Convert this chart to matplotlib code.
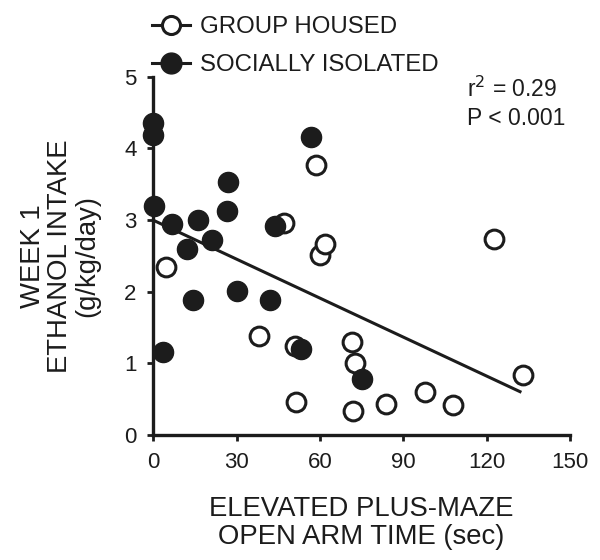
import numpy as np
import matplotlib
matplotlib.use("Agg")
import matplotlib.pyplot as plt
from matplotlib.lines import Line2D

plt.rcParams["font.family"] = ["Liberation Sans", "DejaVu Sans"]

# Group housed (open circles)
gh_time = [4.6, 38.0, 47.2, 51.0, 51.4, 58.6, 60.0, 61.8, 71.4, 72.6, 72.0,
           83.8, 97.8, 107.8, 122.6, 133.2]
gh_intake = [2.34, 1.38, 2.96, 1.25, 0.46, 3.77, 2.51, 2.66, 1.30, 1.00, 0.34,
             0.44, 0.60, 0.42, 2.74, 0.84]

# Socially isolated (filled circles)
si_time = [0.0, 0.0, 0.3, 3.4, 6.9, 12.0, 14.2, 16.2, 21.2, 26.6, 27.0, 30.2,
           42.0, 43.8, 53.2, 56.7, 75.2]
si_intake = [4.35, 4.18, 3.19, 1.16, 2.94, 2.59, 1.88, 3.00, 2.72, 3.12, 3.53,
             2.01, 1.88, 2.92, 1.20, 4.16, 0.78]

fit_range = [0, 132]
x_ticks = [0, 30, 60, 90, 120, 150]
y_ticks = [0, 1, 2, 3, 4, 5]

ink = "#1c1c1c"

fig = plt.figure(figsize=(6.0, 5.6), dpi=100)
ax = fig.add_axes([0.2555, 0.223, 0.6945, 0.64])

# regression over all animals
all_x = np.array(gh_time + si_time)
all_y = np.array(gh_intake + si_intake)
slope, icpt = np.polyfit(all_x, all_y, 1)
fx = np.array(fit_range)
ax.plot(fx, icpt + slope * fx, color=ink, lw=2.2, zorder=2)

ax.plot(gh_time, gh_intake, "o", ms=13.5, mfc="white", mec=ink, mew=2.2,
        clip_on=False, zorder=3)
ax.plot(si_time, si_intake, "o", ms=14.5, mfc=ink, mec=ink, mew=1,
        clip_on=False, zorder=4)

ax.set_xlim(0, 150)
ax.set_ylim(0, 5)
ax.set_xticks(x_ticks)
ax.set_yticks(y_ticks)
for s in ["top", "right"]:
    ax.spines[s].set_visible(False)
for s in ["left", "bottom"]:
    ax.spines[s].set_linewidth(2.4)
    ax.spines[s].set_color(ink)
ax.tick_params(length=4, width=2, color=ink, labelsize=16, labelcolor=ink,
               pad=8)

ax.set_xlabel("ELEVATED PLUS-MAZE\nOPEN ARM TIME (sec)", fontsize=19.8,
              color=ink, labelpad=17, linespacing=1.07)
ax.set_ylabel("WEEK 1\nETHANOL INTAKE\n(g/kg/day)", fontsize=19.8,
              color=ink, labelpad=17, linespacing=1.07)

fig.text(467 / 600, 1 - 97 / 560, "r$^{2}$ = 0.29", fontsize=16.5,
         color=ink, va="baseline", ha="left")
fig.text(467 / 600, 1 - 125 / 560, "P < 0.001", fontsize=16.5,
         color=ink, va="baseline", ha="left")

handles = [
    Line2D([], [], color=ink, lw=2.2, marker="o", ms=13, mfc="white", mec=ink,
           mew=2.2),
    Line2D([], [], color=ink, lw=2.2, marker="o", ms=15, mfc=ink, mec=ink),
]
fig.legend(handles, ["GROUP HOUSED", "SOCIALLY ISOLATED"],
           loc="upper left", bbox_to_anchor=(151.7 / 600, 1 - 16 / 560),
           frameon=False, fontsize=17.3, handlelength=1.58,
           handletextpad=0.42, labelspacing=0.68, borderpad=0,
           borderaxespad=0, labelcolor=ink)

fig.savefig("out.png", dpi=100)
